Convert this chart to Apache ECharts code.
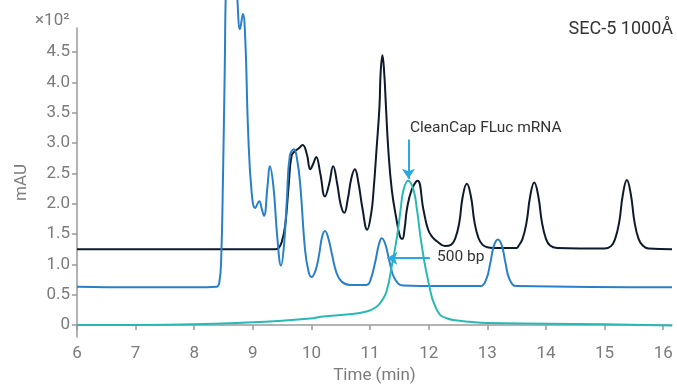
<!DOCTYPE html>
<html>
<head>
<meta charset="utf-8">
<title>SEC-5 1000Å chromatogram</title>
<script src="https://cdn.jsdelivr.net/npm/echarts@6/dist/echarts.min.js"></script>
<style>
  html, body { margin: 0; padding: 0; background: #ffffff; }
  #chart { width: 677px; height: 385px; }
</style>
</head>
<body>
<div id="chart"></div>
<script>
// Time (min) vs absorbance (x10^2 mAU)
const ladderTrace = [
  [6.0,1.25],[7.0,1.25],[8.0,1.25],[9.0,1.25],[9.38,1.25],[9.44,1.27],[9.49,1.36],[9.55,1.63],
  [9.61,2.29],[9.66,2.79],[9.72,2.87],[9.78,2.91],[9.85,2.97],[9.92,2.82],[9.98,2.57],[10.03,2.66],
  [10.08,2.77],[10.15,2.5],[10.23,2.12],[10.3,2.32],[10.37,2.62],[10.44,2.32],[10.5,1.98],[10.56,1.85],
  [10.62,2.08],[10.68,2.42],[10.74,2.57],[10.8,2.35],[10.87,1.92],[10.95,1.57],[11.02,1.85],[11.06,2.23],
  [11.11,2.9],[11.16,3.61],[11.18,4.17],[11.21,4.45],[11.24,4.17],[11.27,3.61],[11.31,2.9],[11.37,2.23],
  [11.45,1.74],[11.51,1.46],[11.55,1.42],[11.59,1.6],[11.63,1.92],[11.71,2.23],[11.81,2.38],[11.91,1.9],
  [11.99,1.57],[12.07,1.44],[12.14,1.38],[12.28,1.3],[12.38,1.32],[12.45,1.42],[12.52,1.68],[12.58,2.12],
  [12.65,2.33],[12.72,2.12],[12.78,1.7],[12.85,1.43],[12.92,1.32],[13.0,1.28],[13.1,1.27],[13.5,1.27],
  [13.53,1.3],[13.6,1.42],[13.67,1.7],[13.73,2.12],[13.8,2.35],[13.87,2.12],[13.93,1.7],[14.0,1.42],
  [14.07,1.31],[14.19,1.27],[15.0,1.26],[15.11,1.3],[15.18,1.42],[15.25,1.7],[15.31,2.14],[15.38,2.39],
  [15.45,2.14],[15.51,1.7],[15.58,1.42],[15.65,1.31],[15.75,1.26],[16.15,1.25]
];

const bpTrace = [
  [6.0,0.63],[7.0,0.62],[8.0,0.62],[8.38,0.63],[8.43,0.72],[8.46,1.1],[8.49,2.4],[8.52,4.2],
  [8.55,5.8],[8.62,6.4],[8.7,6.2],[8.74,5.3],[8.78,4.88],[8.83,5.13],[8.87,4.72],[8.92,3.17],
  [8.98,2.18],[9.04,1.93],[9.11,2.04],[9.15,1.92],[9.19,1.8],[9.25,2.29],[9.29,2.62],[9.35,2.29],
  [9.42,1.41],[9.48,0.98],[9.53,1.3],[9.58,2.07],[9.63,2.79],[9.7,2.9],[9.76,2.7],[9.81,2.29],
  [9.89,1.24],[9.95,0.88],[10.0,0.79],[10.07,0.9],[10.13,1.16],[10.18,1.45],[10.23,1.55],[10.29,1.42],
  [10.35,1.16],[10.43,0.85],[10.52,0.71],[10.66,0.66],[10.94,0.66],[11.0,0.72],[11.09,1.05],[11.15,1.33],
  [11.2,1.43],[11.26,1.33],[11.33,1.05],[11.42,0.76],[11.57,0.65],[12.2,0.64],[12.88,0.64],[12.98,0.75],
  [13.05,1.02],[13.11,1.3],[13.18,1.41],[13.25,1.3],[13.31,1.02],[13.38,0.75],[13.5,0.64],[16.15,0.62]
];

const mrnaTrace = [
  [6.0,0.0],[7.0,0.0],[8.0,0.01],[8.9,0.04],[9.5,0.07],[10.03,0.11],[10.2,0.14],[10.6,0.17],
  [10.94,0.22],[11.11,0.3],[11.2,0.4],[11.28,0.55],[11.37,0.97],[11.46,1.46],[11.52,1.9],[11.57,2.23],
  [11.65,2.38],[11.74,2.23],[11.8,1.9],[11.86,1.45],[11.93,1.02],[11.98,0.78],[12.03,0.55],[12.08,0.38],
  [12.19,0.17],[12.31,0.11],[12.42,0.08],[12.7,0.05],[13.0,0.03],[14.0,0.02],[15.0,0.01],[16.15,-0.01]
];

const xTicks = [6, 7, 8, 9, 10, 11, 12, 13, 14, 15, 16];
const yTicks = [0, 0.5, 1.0, 1.5, 2.0, 2.5, 3.0, 3.5, 4.0, 4.5];

// arrow annotations: [fromTime, fromMau, toTime, toMau]
const mrnaArrow = [11.654, 3.06, 11.654, 2.41];
const bpArrow = [12.02, 1.10, 11.295, 1.10];

const FONT = 'Roboto, "Noto Sans", sans-serif';
const AXIS_GREY = '#9a9a9a';
const LABEL_GREY = '#7b7b7b';
const ARROW_BLUE = '#2aa9e0';

const chart = echarts.init(document.getElementById('chart'), null, { renderer: 'canvas' });

const lineSeries = (name, data, color, extra) => Object.assign({
  name,
  type: 'line',
  data,
  smooth: 0.45,
  showSymbol: false,
  symbol: 'none',
  silent: true,
  lineStyle: { color, width: 2 },
  itemStyle: { color }
}, extra || {});

const option = {
  animation: false,
  backgroundColor: '#ffffff',
  grid: { left: 77, right: 5, top: 28, bottom: 48, outerBoundsMode: 'none', containLabel: false },
  xAxis: {
    type: 'value',
    min: 6,
    max: 16.15,
    name: 'Time (min)',
    nameLocation: 'middle',
    nameGap: 30,
    nameTextStyle: { color: LABEL_GREY, fontFamily: FONT, fontSize: 17 },
    axisLine: { show: true, lineStyle: { color: AXIS_GREY, width: 1.5 } },
    axisTick: { show: true, length: 5, lineStyle: { color: AXIS_GREY, width: 1.5 }, customValues: xTicks },
    axisLabel: { color: LABEL_GREY, fontFamily: FONT, fontSize: 17, margin: 8, customValues: xTicks },
    splitLine: { show: false }
  },
  yAxis: {
    type: 'value',
    min: -0.2,
    max: 4.9,
    name: 'mAU',
    nameLocation: 'middle',
    nameGap: 47,
    nameTextStyle: { color: LABEL_GREY, fontFamily: FONT, fontSize: 17 },
    axisLine: { show: true, lineStyle: { color: AXIS_GREY, width: 1.5 } },
    axisTick: { show: true, length: 5, lineStyle: { color: AXIS_GREY, width: 1.5 }, customValues: yTicks },
    axisLabel: {
      color: LABEL_GREY, fontFamily: FONT, fontSize: 17, margin: 7, customValues: yTicks,
      formatter: (v) => (v === 0 ? '0' : v.toFixed(1))
    },
    splitLine: { show: false }
  },
  series: [
    lineSeries('Ladder', ladderTrace, '#0c1a2c'),
    lineSeries('500 bp', bpTrace, '#2a80c8', { clip: false }),
    lineSeries('CleanCap FLuc mRNA', mrnaTrace, '#27bab4', {
      markLine: {
        silent: true,
        symbol: ['none', 'arrow'],
        symbolSize: 10,
        label: { show: false },
        lineStyle: { color: ARROW_BLUE, width: 2, type: 'solid' },
        data: [
          [{ coord: [mrnaArrow[0], mrnaArrow[1]] }, { coord: [mrnaArrow[2], mrnaArrow[3]] }],
          [{ coord: [bpArrow[0], bpArrow[1]] }, { coord: [bpArrow[2], bpArrow[3]] }]
        ]
      }
    })
  ],
  graphic: [
    { type: 'text', left: 35, top: 12, style: { text: '×10²', font: '17px ' + FONT, fill: LABEL_GREY } },
    { type: 'text', right: 4, top: 20, style: { text: 'SEC-5 1000Å', font: '18px ' + FONT, fill: '#333333' } },
    { type: 'text', left: 410, top: 120, style: { text: 'CleanCap FLuc mRNA', font: '15.5px ' + FONT, fill: '#333333' } },
    { type: 'text', left: 437, top: 249, style: { text: '500 bp', font: '15.5px ' + FONT, fill: '#333333' } }
  ]
};

chart.setOption(option);
</script>
</body>
</html>
